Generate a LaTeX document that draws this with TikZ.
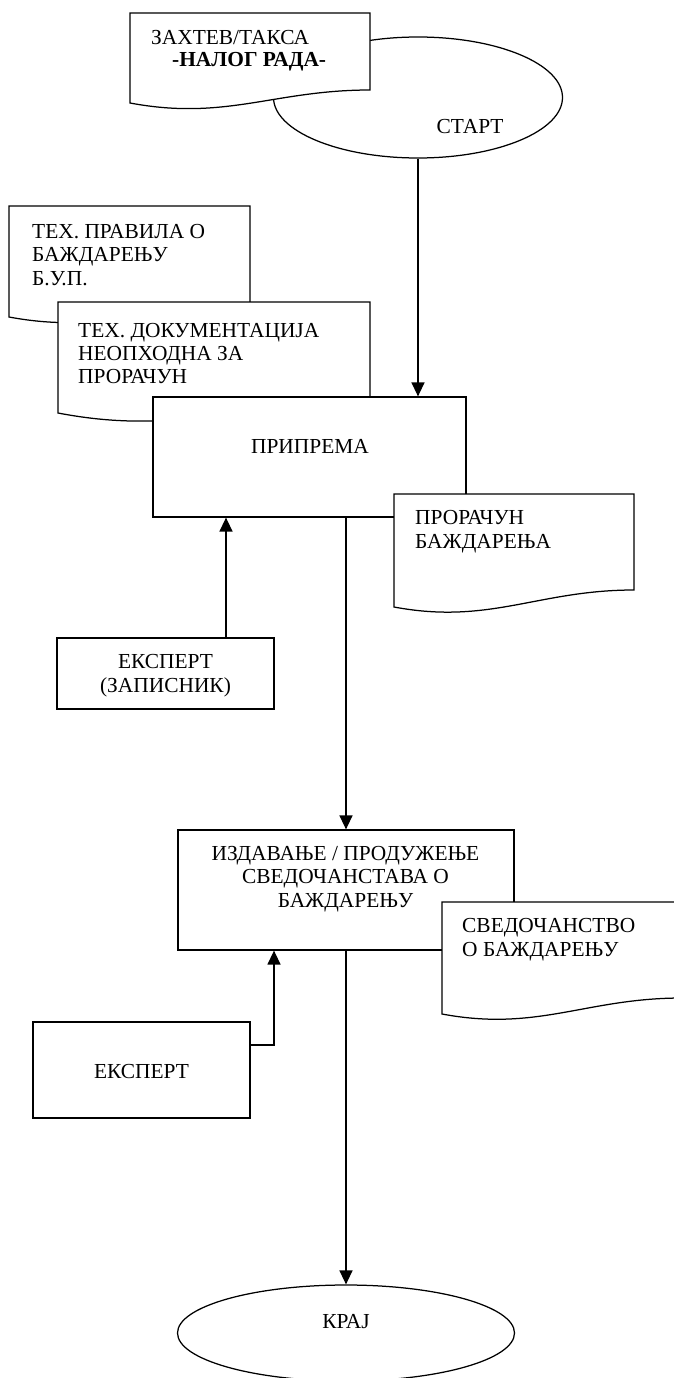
\documentclass[tikz,border=0pt]{standalone}
\usepackage{fontspec}
\setmainfont{Liberation Serif}
\usetikzlibrary{arrows.meta,shapes.geometric}
\tikzset{
  procbox/.style={draw, line width=1.25pt, fill=white, rectangle, inner sep=0pt},
  term/.style={draw, line width=1.25pt, fill=white, ellipse, inner sep=0pt},
  lbl/.style={inner sep=0pt, font=\fontsize{21.4}{23.5}\selectfont},
  lblbold/.style={lbl, font=\fontsize{21.4}{23.5}\selectfont\bfseries},
  arr/.style={line width=1.4pt, -{Triangle[width=13pt,length=14pt]}},
  docfill/.style={draw, line width=1.25pt, fill=white, line join=miter},
}
% document symbol: top-left (#1,#2), right edge x=#3, right foot y=#4,
% left foot y=#5, depth of the wave #6
\newcommand\docpath[6]{%
  \path[docfill] (#1,#2) -- (#3,#2) -- (#3,#4)
    .. controls ({#1+0.6*(#3-#1)},#4) and ({#1+0.4*(#3-#1)},{#5+#6}) .. (#1,#5) -- cycle;}
\begin{document}
\begin{tikzpicture}[x=1pt,y=-1pt]
\useasboundingbox (0,0) rectangle (674,1378);

% start terminal and the work order
\node[term, minimum width=289pt, minimum height=121pt] (start) at (418,97.5) {};
\node[lbl, anchor=base] (starttxt) at (470,133) {СТАРТ};
\docpath{130}{13}{370}{90}{103}{18}
\node[lbl, anchor=base west] (req1) at (151,45) {ЗАХТЕВ/ТАКСА};
\node[lblbold, anchor=base west] (req2) at (172,67) {-НАЛОГ РАДА-};

% input documents
\docpath{9}{206}{250}{304}{317}{18}
\node[lbl, anchor=base west] (rules1) at (32,238) {ТЕХ. ПРАВИЛА О};
\node[lbl, anchor=base west] (rules2) at (32,261.5) {БАЖДАРЕЊУ};
\node[lbl, anchor=base west] (rules3) at (32,285) {Б.У.П.};

\docpath{58}{302}{370}{400}{413}{24}
\node[lbl, anchor=base west] (tdoc1) at (78,337) {ТЕХ. ДОКУМЕНТАЦИЈА};
\node[lbl, anchor=base west] (tdoc2) at (78,360.3) {НЕОПХОДНА ЗА};
\node[lbl, anchor=base west] (tdoc3) at (78,383.6) {ПРОРАЧУН};

% preparation
\node[procbox, minimum width=313pt, minimum height=120pt] (pripr) at (309.5,457) {};
\node[lbl, anchor=base] (priprtxt) at (310,453) {ПРИПРЕМА};

\docpath{394}{494}{634}{590}{607}{18}
\node[lbl, anchor=base west] (calc1) at (415,524) {ПРОРАЧУН};
\node[lbl, anchor=base west] (calc2) at (415,548) {БАЖДАРЕЊА};

\node[procbox, minimum width=217pt, minimum height=71pt] (exp1) at (165.5,673.5) {};
\node[lbl, anchor=base] (exp1a) at (165.5,668) {ЕКСПЕРТ};
\node[lbl, anchor=base] (exp1b) at (165.5,692) {(ЗАПИСНИК)};

% issuing the certificate
\node[procbox, minimum width=336pt, minimum height=120pt] (izd) at (346,890) {};
\node[lbl, anchor=base] (izd1) at (345.5,860) {ИЗДАВАЊЕ / ПРОДУЖЕЊЕ};
\node[lbl, anchor=base] (izd2) at (345.5,883.5) {СВЕДОЧАНСТАВА О};
\node[lbl, anchor=base] (izd3) at (345.5,907) {БАЖДАРЕЊУ};

\docpath{442}{902}{682}{998}{1014}{18}
\node[lbl, anchor=base west] (cert1) at (462,932) {СВЕДОЧАНСТВО};
\node[lbl, anchor=base west] (cert2) at (462,956) {О БАЖДАРЕЊУ};

\node[procbox, minimum width=217pt, minimum height=96pt] (exp2) at (141.5,1070) {};
\node[lbl, anchor=base] (exp2txt) at (141.5,1078) {ЕКСПЕРТ};

% end terminal
\node[term, minimum width=337pt, minimum height=96pt] (krai) at (346,1333) {};
\node[lbl, anchor=base] (kraitxt) at (346,1328) {КРАЈ};

% connectors
\draw[arr] (start.south) -- (start.south |- pripr.north);
\draw[arr] ([xshift=60.5pt]exp1.north) -- ([xshift=60.5pt]exp1.north |- pripr.south);
\draw[arr] (izd.north |- pripr.south) -- (izd.north);
\draw[arr] ([yshift=25pt]exp2.east) -| ([xshift=-72pt]izd.south);
\draw[arr] (izd.south) -- (krai.north);
\end{tikzpicture}
\end{document}
